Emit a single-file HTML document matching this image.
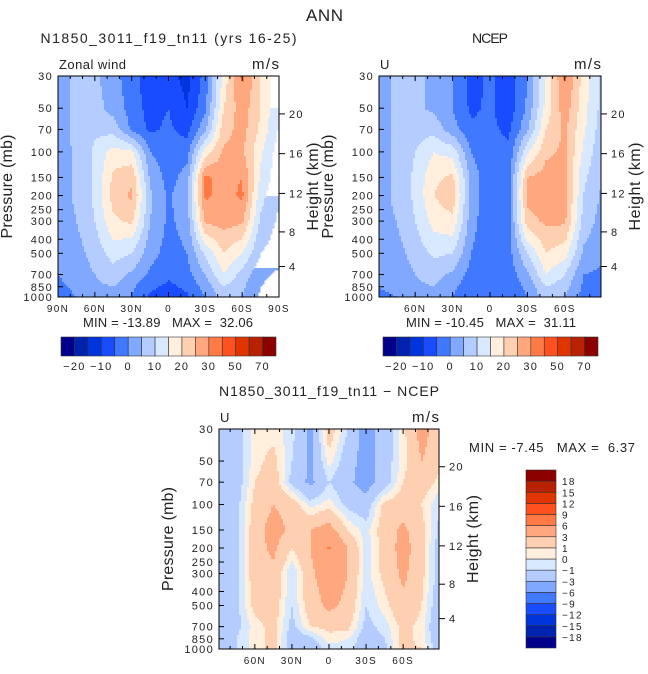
<!DOCTYPE html>
<html><head><meta charset="utf-8">
<style>
html,body{margin:0;padding:0;background:#fff;}
svg{display:block;font-family:"Liberation Sans",sans-serif;}
text{fill:#222;white-space:pre;}
.tk{letter-spacing:1.3px;}
</style></head>
<body>
<svg id="root" width="648" height="674" viewBox="0 0 648 674">
<text x="306" y="21" font-size="17" textLength="37" fill="#444">ANN</text>
<g id="pA"></g>
<g id="pB"></g>
<g id="pC"></g>
<g id="cbA"></g>
<g id="cbB"></g>
<g id="cbC"></g>
</svg>
<script>
// ---- data ----
const lats = [90,75,60,45,30,15,0,-15,-30,-45,-60,-75,-90];
const plevs = [30,50,70,100,150,200,300,500,700,850,1000];
const modelU = [
 [2,7,6,2,-3,-8,-8,-12,-3,17,31,20,11],
 [2,7,7,3,-2,-7,-5,-10,-1,20,28,20,10],
 [2,7,9,8,-1,-6,-4,-7,4,23,27,19,9],
 [2,6,11,17,16,0,-3,-2,17,26,26,16,7],
 [2,6,11,21,24,4,-2,2,31,28,30,14,6],
 [2,6,11,22,26,6,-1,4,31,28,31,12,5],
 [2,5,10,19,21,5,-1,2,26,27,26,9,4],
 [1,3,7,12,10,2,-2,0,11,20,15,5,2],
 [0,2,5,8,4,-1,-4,-2,5,15,8,1,-1],
 [-1,1,4,5,1,-4,-6,-4,2,10,6,0,-2],
 [-2,0,3,4,0,-6,-7,-6,0,8,5,-1,-3]];
const ncepU = [
 [3,6,6,4,0,-7,-4,-8,0,15,31,18,8],
 [3,6,6,4,0,-6,-4,-8,1,17,28,17,8],
 [3,6,8,8,2,-4,-4,-6,4,20,26,16,7],
 [3,6,10,15,13,0,-4,-4,14,24,26,14,6],
 [3,6,11,19,21,3,-4,-2,25,27,27,11,5],
 [3,6,11,20,23,3,-4,-2,27,28,27,10,4],
 [3,5,10,17,19,2,-4,-2,23,26,26,8,3],
 [2,3,7,11,10,0,-4,-2,10,20,17,4,1],
 [1,2,5,7,4,-2,-4,-3,4,15,10,0,-1],
 [0,1,4,5,1,-3,-4,-3,1,10,7,-1,-2],
 [-1,0,3,4,0,-4,-4,-4,0,8,5,-2,-3]];
const diffU = [
 [-2,-2,0.5,0.5,-0.5,-3.5,2,-1,-4,-2,0.5,4,1.5],
 [-2,-2,0.5,1.5,-1,-3.5,0.5,-2,-4,-2,0.5,3,1.5],
 [-2,-2,1,2,-1.5,-3.5,-1,-2.5,-4,-2,1,2,0.5],
 [-2,-1.5,1.5,3,2,-0.5,0.5,-1.5,-2,1.5,2,1,-1],
 [-2,-1.5,2,4,2.5,3,4,1,-0.5,2,3.5,1.5,-1.5],
 [-2,-1.5,2,3.5,1,3,6.3,3,-0.5,1.5,4,1.5,-2],
 [-2,-1.5,2,2.5,-1,2.5,4.5,3,-0.5,1.5,3.5,1.5,-2],
 [-2,-1.5,1.5,2,-1,2,3.5,2.5,-1,0.5,2.5,1,-2.5],
 [-2,-1.5,0.5,1.5,-1.5,1,1.5,1.5,-1.5,-0.5,1.5,0.5,-3],
 [-2,-1,0.5,1.5,-2,-1.5,0.5,0,-2,-1,1.5,0.5,-2.5],
 [-2,-1,0.5,1.5,-2,-2,-0.5,-0.5,-2,-1.5,1.5,1,-2]];
const levelsU = [-20,-15,-10,-5,0,5,10,15,20,25,30,40,50,60,70];
const levelsD = [-18,-15,-12,-9,-6,-3,-1,0,1,3,6,9,12,15,18];
const labelsU = ["-20","-10","0","10","20","30","50","70"];
const labelsD = ["18","15","12","9","6","3","1","0","-1","-3","-6","-9","-12","-15","-18"];
const pLabels = [30,50,70,100,150,200,250,300,400,500,700,850,1000];
const hLabels = [4,8,12,16,20];
const statsA = ["-13.89","32.06"], statsB = ["-10.45","31.11"], statsC = ["-7.45","6.37"];
const palette = ["#00008c","#0022b0","#0034dc","#1a4cff","#4078ff","#80a8ff","#b4ccff","#d8e8ff","#ffefdc","#ffcfb2","#ffa880","#ff7a45","#ff5020","#e03500","#b82200","#8c0000"];

const NS="http://www.w3.org/2000/svg";
function mk(tag,attrs,parent){const e=document.createElementNS(NS,tag);for(const k in attrs)e.setAttribute(k,attrs[k]);parent.appendChild(e);return e;}
function txt(s,x,y,size,anchor,parent,cls){const t=mk('text',{x:x,y:y,'font-size':size,'text-anchor':anchor||'start'},parent);if(cls)t.setAttribute('class',cls);t.textContent=s;return t;}

function sample(field,lat,p){
  let fi=(90-lat)/15; fi=Math.max(0,Math.min(11.999,fi)); const i=Math.floor(fi), fx=fi-i;
  const lp=Math.log(p); let j=0;
  while(j<plevs.length-2 && Math.log(plevs[j+1])<lp) j++;
  let fy=(lp-Math.log(plevs[j]))/(Math.log(plevs[j+1])-Math.log(plevs[j])); fy=Math.max(0,Math.min(1,fy));
  const a=field[j][i]*(1-fx)+field[j][i+1]*fx, b=field[j+1][i]*(1-fx)+field[j+1][i+1]*fx;
  return a*(1-fy)+b*fy;
}
function colorIdx(v,levels){let k=0;while(k<levels.length&&v>=levels[k])k++;return k;}
function heightToP(zkm){const z=zkm*1000;if(z<=11000)return 1013.25*Math.pow(1-2.2558e-5*z,5.256);return 226.3*Math.exp(-(z-11000)/6341.6);}

function panel(g,field,levels,x0,y0,w,h,latMax,latLabels,title,titleW,lt,ltW,stats,statX,statY,statW){
  const yOf=p=>y0+Math.log(p/30)/Math.log(1000/30)*h;
  const xOf=lat=>x0+(latMax-lat)/(2*latMax)*w;
  const fill=mk('g',{},g);
  
  
  const step=2;
  for(let y=y0;y<y0+h;y+=step){
    const p=30*Math.exp((y+step/2-y0)/h*Math.log(1000/30));
    let runStart=x0, runC=-1;
    for(let x=x0;x<=x0+w;x+=step){
      let c=-2;
      if(x<x0+w){const lat=latMax-(x+step/2-x0)/w*2*latMax;c=colorIdx(sample(field,lat,p),levels);}
      if(c!==runC){
        if(runC>=0){mk('rect',{x:runStart,y:y,width:Math.min(x,x0+w)-runStart+0.5,height:Math.min(step+0.5,y0+h-y),fill:palette[runC]},fill);}
        runStart=x;runC=c;
      }
    }
  }
  mk('rect',{x:x0,y:y0,width:w,height:h,fill:'none',stroke:'#000','stroke-width':1},g);
  for(let lat=-90;lat<=90;lat+=10){
    if(Math.abs(lat)>latMax)continue;const x=xOf(lat);const L=(lat%30===0)?5:3;
    mk('line',{x1:x,y1:y0,x2:x,y2:y0+L,stroke:'#000'},g);
    mk('line',{x1:x,y1:y0+h,x2:x,y2:y0+h-L,stroke:'#000'},g);
  }
  latLabels.forEach(s=>{let v=s==="0"?0:parseInt(s);if(s.endsWith('S'))v=-v;
    const t=txt(s,xOf(v),y0+h+15,10,'middle',g,'tk');
    
    });
  pLabels.forEach(p=>{const y=yOf(p);mk('line',{x1:x0,y1:y,x2:x0+5,y2:y,stroke:'#000'},g);
    const t=txt(String(p),x0-5,y+4,11,'end',g,'tk');
    
    });
  hLabels.forEach(z=>{const y=yOf(heightToP(z));mk('line',{x1:x0+w,y1:y,x2:x0+w+6,y2:y,stroke:'#000'},g);
    const t=txt(String(z),x0+w+10,y+4,11,'start',g,'tk');
    
    });
  const yt=txt('Pressure (mb)',0,0,16,'middle',g);yt.setAttribute('transform',`translate(${x0-46},${y0+h/2}) rotate(-90)`);
  yt.setAttribute('textLength','104');
  
  
  const ht=txt('Height (km)',0,0,16,'middle',g);ht.setAttribute('transform',`translate(${x0+w+39},${y0+h/2}) rotate(-90)`);
  ht.setAttribute('textLength','88');
  
  
  const tt=txt(title,x0+w/2-titleW/2,y0-33,14,'start',g);
  tt.setAttribute('textLength',titleW);
  
  
  const lft=txt(lt,x0+1,y0-7,13,'start',g);
  lft.setAttribute('textLength',ltW);
  
  
  const un=txt('m/s',x0+w-27,y0-7,15,'start',g);
  un.setAttribute('textLength','27');
  
  
  const st=txt(`MIN = ${stats[0]}   MAX =  ${stats[1]}`,statX,statY,13,'start',g);
  st.setAttribute('textLength',statW);
  
  
}
function hbar(g,x0,y0,w,h){
  const n=palette.length, bw=w/n;
  palette.forEach((c,i)=>{const r=mk('rect',{x:x0+i*bw,y:y0,width:bw,height:h,fill:c,stroke:'#333','stroke-width':0.6},g);
    
    });
  labelsU.forEach((s,k)=>{const t=txt(s.replace('-','\u2212'),x0+(1+2*k)*bw,y0+h+14,11,'middle',g,'tk');
    
    });
}
function vbar(g,x0,y0,w,h){
  const n=palette.length, bh=h/n;
  palette.forEach((c,i)=>{const r=mk('rect',{x:x0,y:y0+(n-1-i)*bh,width:w,height:bh,fill:c,stroke:'#333','stroke-width':0.6},g);
    
    });
  labelsD.forEach((s,k)=>{const t=txt(s.replace('-','\u2212'),x0+w+6,y0+(k+1)*bh+4,10,'start',g,'tk');
    
    });
}
panel(document.getElementById('pA'),modelU,levelsU,58,76,221,221,90,["90N","60N","30N","0","30S","60S","90S"],"N1850_3011_f19_tn11 (yrs 16-25)",256,"Zonal wind",67,statsA,83,327,170);
panel(document.getElementById('pB'),ncepU,levelsU,379,76,222,221,89,["60N","30N","0","30S","60S"],"NCEP",36,"U",10,statsB,406,327,170);
panel(document.getElementById('pC'),diffU,levelsD,219,429,220,220,89,["60N","30N","0","30S","60S"],"N1850_3011_f19_tn11 \u2212 NCEP",220,"U",10,statsC,469,452,166);
hbar(document.getElementById('cbA'),61,337,215,19);
hbar(document.getElementById('cbB'),383,337,215,19);
vbar(document.getElementById('cbC'),526,470,30,178);
</script>
</body></html>
